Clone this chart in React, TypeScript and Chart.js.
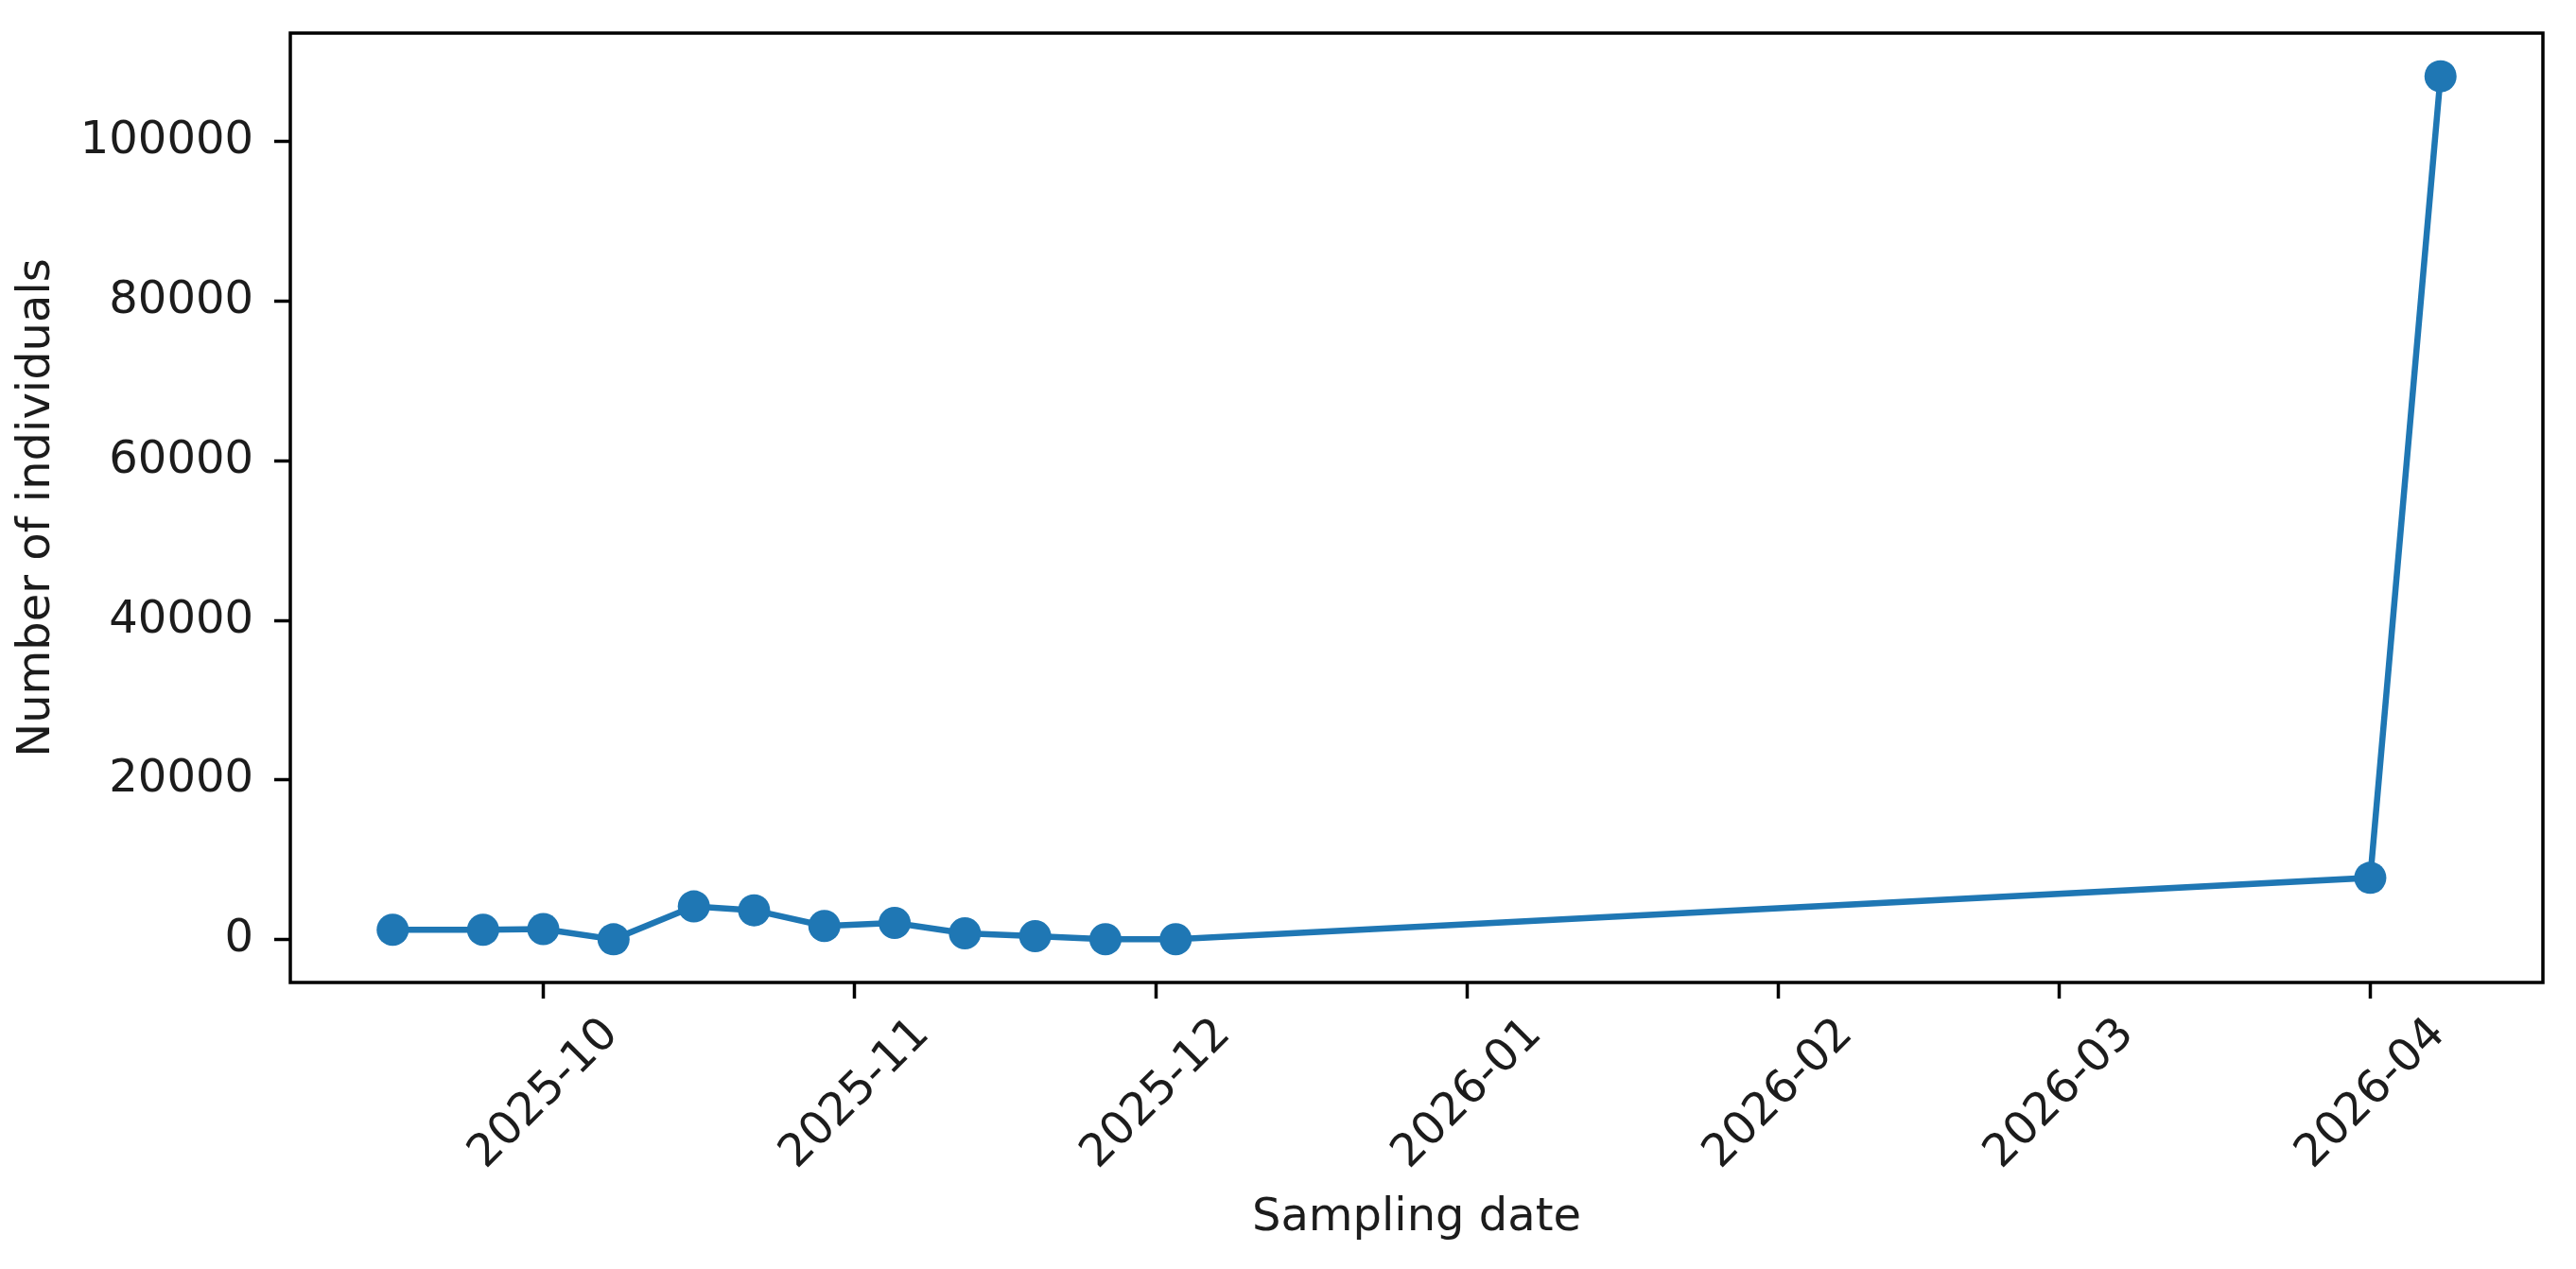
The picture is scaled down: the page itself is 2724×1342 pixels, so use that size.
import React, { useEffect, useRef } from "react";
import { Chart, registerables } from "chart.js";

Chart.register(...registerables);

// sampling dates and counts
const sampleDates = [
  "2025-09-16",
  "2025-09-25",
  "2025-10-01",
  "2025-10-08",
  "2025-10-16",
  "2025-10-22",
  "2025-10-29",
  "2025-11-05",
  "2025-11-12",
  "2025-11-19",
  "2025-11-26",
  "2025-12-03",
  "2026-04-01",
  "2026-04-08"
];
const individuals = [1240, 1240, 1330, 50, 4170, 3690, 1720, 2110, 800, 450, 60, 60, 7750, 108170];

const monthTicks = ["2025-10", "2025-11", "2025-12", "2026-01", "2026-02", "2026-03", "2026-04"];
const countTicks = [0, 20000, 40000, 60000, 80000, 100000];

const BLUE = "#1f77b4";
const INK = "#1c1c1c";
const FONT = "'DejaVu Sans', sans-serif";
const SIZE = 48;

const toDay = (s: string) => {
  const [y, m, d] = s.split("-").map(Number);
  return Date.UTC(y, m - 1, d || 1) / 86400000;
};

// matplotlib-like 5% autoscale margins
const pad = (lo: number, hi: number) => {
  const r = hi - lo;
  return [lo - 0.05 * r, hi + 0.05 * r];
};

// closed box around the plotting area
const frame = {
  id: "frame",
  afterDatasetsDraw(chart: any) {
    const { ctx, chartArea } = chart;
    ctx.save();
    ctx.strokeStyle = "#000";
    ctx.lineWidth = 3.5;
    ctx.strokeRect(chartArea.left, chartArea.top, chartArea.right - chartArea.left, chartArea.bottom - chartArea.top);
    ctx.restore();
  }
};

const TimeSeriesChart: React.FC = () => {
  const chartRef = useRef<HTMLCanvasElement>(null);
  const chartInstance = useRef<Chart>();

  useEffect(() => {
    if (!chartRef.current) return;
    const ctx = chartRef.current.getContext("2d");
    if (!ctx) return;
    if (chartInstance.current) chartInstance.current.destroy();

    const days = sampleDates.map(toDay);
    const points = days.map((x, i) => ({ x, y: individuals[i] }));
    const [xMin, xMax] = pad(Math.min(...days), Math.max(...days));
    const [yMin, yMax] = pad(Math.min(...individuals), Math.max(...individuals));
    const monthDays = monthTicks.map(toDay);

    chartInstance.current = new Chart(ctx, {
      type: "line",
      data: {
        datasets: [
          {
            label: "Individuals",
            data: points,
            borderColor: BLUE,
            backgroundColor: BLUE,
            borderWidth: 6.5,
            pointRadius: 17,
            pointBorderWidth: 0,
            pointBackgroundColor: BLUE,
            tension: 0
          }
        ]
      },
      options: {
        animation: false,
        responsive: false,
        devicePixelRatio: 1,
        layout: { padding: { top: 35, right: 35, left: 0, bottom: 0 } },
        plugins: {
          legend: { display: false },
          tooltip: { enabled: false }
        },
        scales: {
          x: {
            type: "linear",
            min: xMin,
            max: xMax,
            border: { display: false },
            grid: {
              drawOnChartArea: false,
              drawTicks: true,
              tickLength: 17,
              tickWidth: 3.5,
              tickColor: "#000"
            },
            afterBuildTicks: (scale: any) => {
              scale.ticks = monthDays.map((v) => ({ value: v }));
            },
            afterFit: (scale: any) => {
              scale.height = 303;
              scale.paddingLeft = 0;
              scale.paddingRight = 0;
            },
            ticks: {
              autoSkip: false,
              minRotation: 45,
              maxRotation: 45,
              padding: 10,
              labelOffset: 72,
              color: INK,
              font: { family: FONT, size: SIZE },
              callback: (v: any) => {
                const i = monthDays.indexOf(Number(v));
                return i >= 0 ? monthTicks[i] : "";
              }
            },
            title: {
              display: true,
              text: "Sampling date",
              color: INK,
              font: { family: FONT, size: SIZE },
              padding: { top: 0, bottom: 25 }
            }
          },
          y: {
            type: "linear",
            min: yMin,
            max: yMax,
            border: { display: false },
            grid: {
              drawOnChartArea: false,
              drawTicks: true,
              tickLength: 17,
              tickWidth: 3.5,
              tickColor: "#000"
            },
            afterBuildTicks: (scale: any) => {
              scale.ticks = countTicks.map((v) => ({ value: v }));
            },
            afterFit: (scale: any) => {
              scale.width = 307;
              scale.paddingTop = 0;
              scale.paddingBottom = 0;
            },
            ticks: {
              padding: 22,
              color: INK,
              font: { family: FONT, size: SIZE },
              callback: (v: any) => String(v)
            },
            title: {
              display: true,
              text: "Number of individuals",
              color: INK,
              font: { family: FONT, size: SIZE },
              padding: { top: 11, bottom: 0 }
            }
          }
        }
      },
      plugins: [frame]
    });

    return () => {
      if (chartInstance.current) {
        chartInstance.current.destroy();
        chartInstance.current = undefined;
      }
    };
  }, []);

  return (
    <div style={{ position: "fixed", left: 0, top: 0, width: 2724, height: 1342, background: "#fff" }}>
      <canvas ref={chartRef} width={2724} height={1342} style={{ width: 2724, height: 1342 }} />
    </div>
  );
};

export default function App() {
  return <TimeSeriesChart />;
}
